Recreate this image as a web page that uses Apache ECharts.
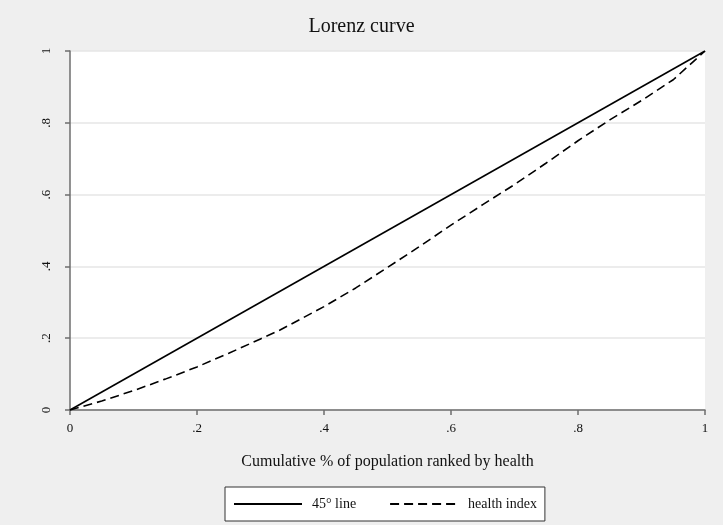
<!DOCTYPE html>
<html><head><meta charset="utf-8">
<script src="https://cdn.jsdelivr.net/npm/echarts@6/dist/echarts.min.js"></script>
<style>html,body{margin:0;padding:0;background:#efefef}#c{width:723px;height:525px}</style>
</head><body><div id="c"></div>
<script>
const titleText = "Lorenz curve";
const xTitle = "Cumulative % of population ranked by health";
const tickValues = [0, 0.2, 0.4, 0.6, 0.8, 1];
const tickLabels = ["0", ".2", ".4", ".6", ".8", "1"];
const lineX = [0, 1];
const lineY = [0, 1];
const healthX = [0, 0.05, 0.1, 0.15, 0.2, 0.25, 0.3, 0.33, 0.4, 0.45, 0.5, 0.55, 0.6, 0.65, 0.7, 0.75, 0.8, 0.85, 0.9, 0.95, 1];
const healthY = [0, 0.025, 0.054, 0.086, 0.12, 0.158, 0.198, 0.222, 0.288, 0.34, 0.397, 0.455, 0.515, 0.572, 0.628, 0.688, 0.75, 0.808, 0.862, 0.92, 1];
const seriesNames = ["45° line", "health index"];

const serif = "'Liberation Serif', 'DejaVu Serif', serif";
const fmt = v => { const i = tickValues.findIndex(t => Math.abs(t - v) < 1e-9); return i >= 0 ? tickLabels[i] : ""; };
const axisCommon = {
  type: 'value', min: 0, max: 1, interval: 0.2,
  axisLine: { show: true, lineStyle: { color: '#6e6e6e', width: 1.5 } },
  axisTick: { show: true, inside: false, length: 5, lineStyle: { color: '#6e6e6e', width: 1.5 } },
  axisLabel: { formatter: fmt, fontFamily: serif, fontSize: 13, color: '#111' }
};
const chart = echarts.init(document.getElementById('c'));
chart.setOption({
  backgroundColor: '#efefef',
  animation: false,
  title: { text: titleText, left: 'center', top: 12, textStyle: { fontFamily: serif, fontSize: 20, fontWeight: 'normal', color: '#111' } },
  grid: { left: 70, right: 18, top: 51, bottom: 115, show: true, backgroundColor: '#fff', borderWidth: 0 },
  xAxis: Object.assign({}, axisCommon, {
    name: xTitle, nameLocation: 'middle', nameGap: 44,
    nameTextStyle: { fontFamily: serif, fontSize: 16, color: '#111' },
    splitLine: { show: false },
    axisLabel: Object.assign({}, axisCommon.axisLabel, { margin: 12 })
  }),
  yAxis: Object.assign({}, axisCommon, {
    splitLine: { show: true, lineStyle: { color: '#e6e6e6', width: 1.5 } },
    axisLabel: Object.assign({}, axisCommon.axisLabel, { rotate: 90, margin: 17 })
  }),
  legend: {
    bottom: 4, left: 225,
    backgroundColor: '#fff', borderColor: '#333', borderWidth: 1,
    padding: [10, 8, 10, 8], itemGap: 33, itemWidth: 68, itemHeight: 10,
    itemStyle: { color: 'rgba(0,0,0,0)', borderColor: 'rgba(0,0,0,0)', borderWidth: 0 },
    textStyle: { fontFamily: serif, fontSize: 14, color: '#111', padding: [0, 0, 0, 5] },
    data: seriesNames
  },
  series: [
    { name: seriesNames[0], type: 'line', data: lineX.map((x, i) => [x, lineY[i]]), showSymbol: false, symbol: 'none',
      lineStyle: { color: '#000', width: 1.6, type: 'solid' }, itemStyle: { color: '#000' } },
    { name: seriesNames[1], type: 'line', data: healthX.map((x, i) => [x, healthY[i]]), showSymbol: false, symbol: 'none',
      lineStyle: { color: '#000', width: 1.6, type: [9, 5] }, itemStyle: { color: '#000' } }
  ]
});
</script></body></html>
